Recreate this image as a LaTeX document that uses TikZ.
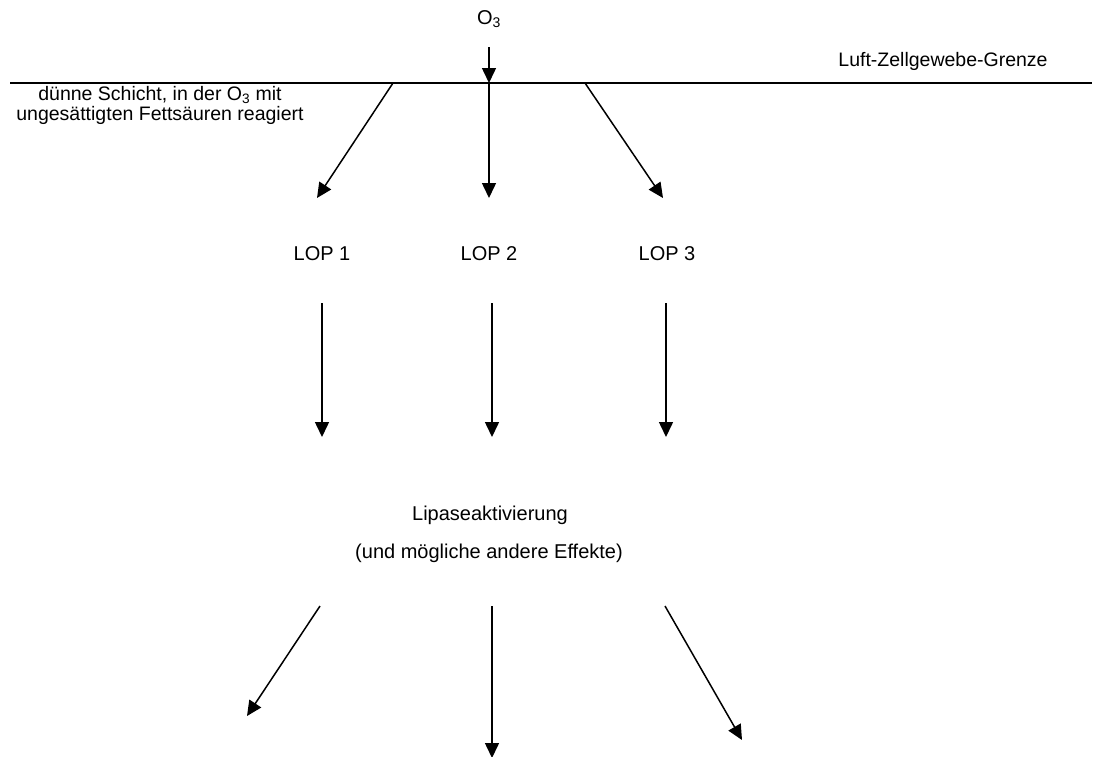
\documentclass[tikz,border=0pt]{standalone}
\usepackage{fontspec}
\setmainfont{Liberation Sans}
\usetikzlibrary{arrows.meta}
\begin{document}
\begin{tikzpicture}[x=1pt,y=-1pt,
  txt/.style={inner sep=0pt,font=\fontsize{20}{24}\selectfont},
  small/.style={inner sep=0pt,font=\fontsize{19.5}{20.5}\selectfont,align=center},
  arr/.style={line width=1.5pt,-{Triangle[length=15pt,width=14pt]}},
  ln/.style={line width=1.5pt}]
\useasboundingbox (0,0) rectangle (1094,756);
% texts
\node[txt] (o3) at (489,19) {O\textsubscript{3}};
\node[small] (grenze) at (943,61) {Luft-Zellgewebe-Grenze};
\node[small] (schicht) at (160,105.5) {dünne Schicht, in der O\textsubscript{3} mit\\ungesättigten Fettsäuren reagiert};
\node[txt] (lop1) at (322,254) {LOP 1};
\node[txt] (lop2) at (489,254) {LOP 2};
\node[txt] (lop3) at (667,254) {LOP 3};
\node[txt] (lipase) at (490,515) {Lipaseaktivierung};
\node[txt] (effekte) at (489,553) {(und mögliche andere Effekte)};
% boundary line
\coordinate (gl) at (10,83);
\coordinate (gr) at (1092,83);
\draw[ln] (gl) -- (gr);
% coordinates
\coordinate (o3s) at (489,47);
\coordinate (g2) at (489,83);
\coordinate (g1) at (393,83);
\coordinate (g3) at (585,83);
\coordinate (t1) at (317,198);
\coordinate (t2) at (489,198);
\coordinate (t3) at (663,198);
\coordinate (s1) at (322,303);
\coordinate (s2) at (492,303);
\coordinate (s3) at (666,303);
\coordinate (e1) at (322,437);
\coordinate (e2) at (492,437);
\coordinate (e3) at (666,437);
\coordinate (b1) at (320,606);
\coordinate (b2) at (492,606);
\coordinate (b3) at (665,606);
\coordinate (c1) at (247,716);
\coordinate (c2) at (492,758);
\coordinate (c3) at (742,740);
% arrows
\draw[arr] (o3s) -- (g2);
\draw[arr] (g1) -- (t1);
\draw[arr] (g2) -- (t2);
\draw[arr] (g3) -- (t3);
\draw[arr] (s1) -- (e1);
\draw[arr] (s2) -- (e2);
\draw[arr] (s3) -- (e3);
\draw[arr] (b1) -- (c1);
\draw[arr] (b2) -- (c2);
\draw[arr] (b3) -- (c3);
\end{tikzpicture}
\end{document}
